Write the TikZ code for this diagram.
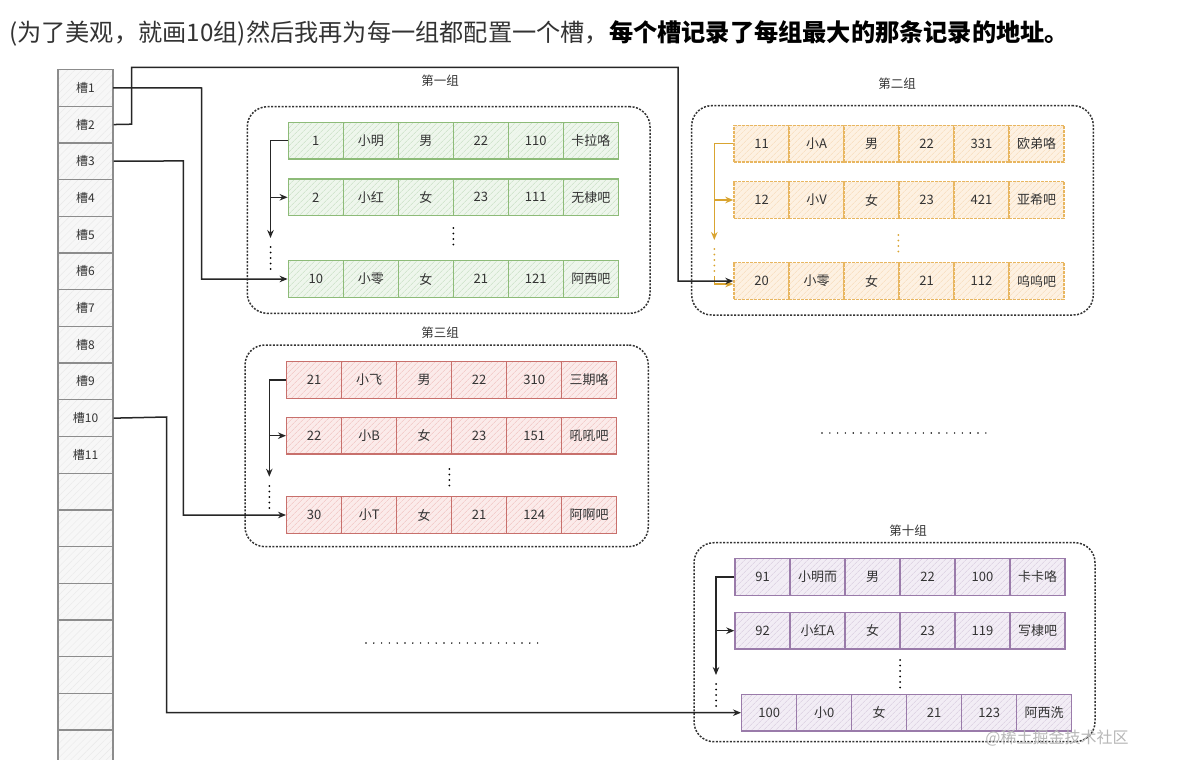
\documentclass[tikz,border=0pt]{standalone}
\usepackage{fontspec}
\newfontfamily\cjk{Noto Sans CJK SC}
\usetikzlibrary{arrows.meta,patterns.meta,calc}
\definecolor{gfill}{HTML}{EEF6EC}\definecolor{gline}{HTML}{C3DDBE}\definecolor{gbord}{HTML}{8DBB78}
\definecolor{ofill}{HTML}{FDF1E2}\definecolor{oline}{HTML}{F6D9B4}\definecolor{obord}{HTML}{E8B660}
\definecolor{rfill}{HTML}{FBEBEA}\definecolor{rline}{HTML}{EFBDBB}\definecolor{rbord}{HTML}{C8706C}
\definecolor{pfill}{HTML}{F2EDF5}\definecolor{pline}{HTML}{D6C9DD}\definecolor{pbord}{HTML}{9A7BAA}
\definecolor{sfill}{HTML}{F7F7F7}\definecolor{sline}{HTML}{E9E9E9}\definecolor{sbord}{HTML}{8C8C8C}
\definecolor{oarrow}{HTML}{D9A430}
\tikzset{
  cell/.style={draw, minimum width=55pt, minimum height=36.7pt, inner sep=0pt, line width=1.4pt,
    font=\cjk\fontsize{13}{15}\selectfont, text=black!80},
  hatch/.style={pattern={Lines[angle=45,distance=4pt,line width=0.5pt]}},
  gcell/.style={cell, hatch, draw=gbord, preaction={fill=gfill}, pattern color=gline},
  ocell/.style={cell, hatch, draw=obord, dash pattern=on 3pt off 1pt, preaction={fill=ofill}, pattern color=oline},
  rcell/.style={cell, hatch, draw=rbord, preaction={fill=rfill}, pattern color=rline},
  pcell/.style={cell, hatch, draw=pbord, preaction={fill=pfill}, pattern color=pline},
  slot/.style={draw=sbord, line width=1.3pt, minimum width=55pt, minimum height=36.7pt, inner sep=0pt,
    preaction={fill=sfill}, pattern={Lines[angle=45,distance=5pt,line width=0.4pt]}, pattern color=sline,
    font=\cjk\fontsize{12}{14}\selectfont, text=black!80},
  grp/.style={draw=black!80, line width=1.5pt, dash pattern=on 2pt off 1.5pt, rounded corners=20pt, inner sep=0pt},
  glabel/.style={font=\cjk\fontsize{12.5}{14}\selectfont, text=black!80},
  link/.style={line width=1.5pt, draw=black!85, -{Stealth[length=8pt,width=6.5pt]}},
  olink/.style={line width=1.5pt, draw=oarrow, -{Stealth[length=8pt,width=6.5pt]}},
  vdots/.style={line width=2pt, line cap=round, dash pattern=on 0pt off 5.5pt},
  hdots/.style={line width=1.6pt, line cap=round, dash pattern=on 0pt off 7.8pt},
}
\newcommand{\recrow}[5]{%
  \foreach \v [count=\i] in {#5} {\node[#4] (#1-\i) at ({#2+27.5+55*(\i-1)}, #3) {\v};}}
\begin{document}
\begin{tikzpicture}[x=1pt,y=-1pt]
\useasboundingbox (0,0) rectangle (1178,760);
\clip (0,0) rectangle (1178,760);
\fill[white] (0,0) rectangle (1178,760);

% header
\node[anchor=west, inner sep=0pt, font=\cjk\fontsize{24.2}{27}\selectfont, text=black!80] (head) at (9,33)
  {(为了美观，就画10组)然后我再为每一组都配置一个槽，{\bfseries\color{black}每个槽记录了每组最大的那条记录的地址。}};

% slot column
\foreach \k in {1,...,19} {
  \node[slot] (s\k) at (85.5, {69.5+36.7*(\k-0.5)}) {\ifnum\k<12 槽\k\fi};
}

% containers
\node[grp, minimum width=402.7pt, minimum height=206.6pt] (G1) at (448.65,210) {};
\node[grp, minimum width=401.6pt, minimum height=209.3pt] (G2) at (892.5,210.35) {};
\node[grp, minimum width=403.3pt, minimum height=201.7pt] (G3) at (446.65,445.85) {};
\node[grp, minimum width=401pt, minimum height=199pt] (G10) at (894.5,642.2) {};
\node[glabel] (L1) at (440,81) {第一组};
\node[glabel] (L2) at (897,84) {第二组};
\node[glabel] (L3) at (440,333) {第三组};
\node[glabel] (L10) at (908,531) {第十组};

% records
\recrow{g1a}{288.3}{140.7}{gcell}{1,小明,男,22,110,卡拉咯}
\recrow{g1b}{288.3}{197.3}{gcell}{2,小红,女,23,111,无棣吧}
\recrow{g1c}{288.3}{279}{gcell}{10,小零,女,21,121,阿西吧}
\recrow{g2a}{734}{143.7}{ocell}{11,小A,男,22,331,欧弟咯}
\recrow{g2b}{734}{200}{ocell}{12,小V,女,23,421,亚希吧}
\recrow{g2c}{734}{281}{ocell}{20,小零,女,21,112,呜呜吧}
\recrow{g3a}{286.7}{380}{rcell}{21,小飞,男,22,310,三期咯}
\recrow{g3b}{286.7}{435.7}{rcell}{22,小B,女,23,151,吼吼吧}
\recrow{g3c}{286.7}{515}{rcell}{30,小T,女,21,124,阿啊吧}
\recrow{g10a}{735}{577}{pcell}{91,小明而,男,22,100,卡卡咯}
\recrow{g10b}{735}{630.7}{pcell}{92,小红A,女,23,119,写棣吧}
\recrow{g10c}{741.7}{712.7}{pcell}{100,小0,女,21,123,阿西洗}

% vertical dots between rows
\draw[vdots] (453.3,228) -- (453.3,246);
\draw[vdots, draw=oarrow] (898.3,235) -- (898.3,253);
\draw[vdots] (449.3,469) -- (449.3,487);
\draw[vdots] (900,660) -- (900,688);

% internal chains
\coordinate (k1) at (270.5,140.7);
\draw[link] (g1a-1.west) -- (k1) -- (k1 |- 0,238);
\draw[link] (k1 |- g1b-1.west) -- (g1b-1.west);
\draw[vdots] (k1 |- 0,247) -- (k1 |- 0,272);

\coordinate (k2) at (714.3,143.7);
\draw[olink] (g2a-1.west) -- (k2) -- (k2 |- 0,240);
\draw[olink] (k2 |- g2b-1.west) -- (g2b-1.west);
\draw[vdots, draw=oarrow] (k2 |- 0,249) -- (k2 |- 0,274);
\draw[olink] (k2 |- 0,276) |- ($(g2c-1.west)+(0,3)$);

\coordinate (k3) at (269.3,380);
\draw[link] (g3a-1.west) -- (k3) -- (k3 |- 0,476.7);
\draw[link] (k3 |- g3b-1.west) -- (g3b-1.west);
\draw[vdots] (k3 |- 0,486) -- (k3 |- 0,511);

\coordinate (k10) at (716,577);
\draw[link] (g10a-1.west) -- (k10) -- (k10 |- 0,675);
\draw[link] (k10 |- g10b-1.west) -- (g10b-1.west);
\draw[vdots] (k10 |- 0,684) -- (k10 |- 0,709);

% slot links
\draw[link] (s1.east) -- (201.7,88) |- (g1c-1.west);
\draw[link] (s2.east) -- (131.7,124.2) |- (678,67.3) |- (g2c-1.west);
\draw[link] (s3.east) -- (183.3,160.9) |- (g3c-1.west);
\draw[link] (s10.east) -- (166.7,417) |- (g10c-1.west);

% ellipses
\draw[hdots] (822,433) -- (993,433);
\draw[hdots] (366,643) -- (538,643);

% watermark
\node[font=\cjk\fontsize{16}{18}\selectfont, text=black!28, inner sep=0pt] (wm) at (1057,738) {@稀土掘金技术社区};
\end{tikzpicture}
\end{document}
